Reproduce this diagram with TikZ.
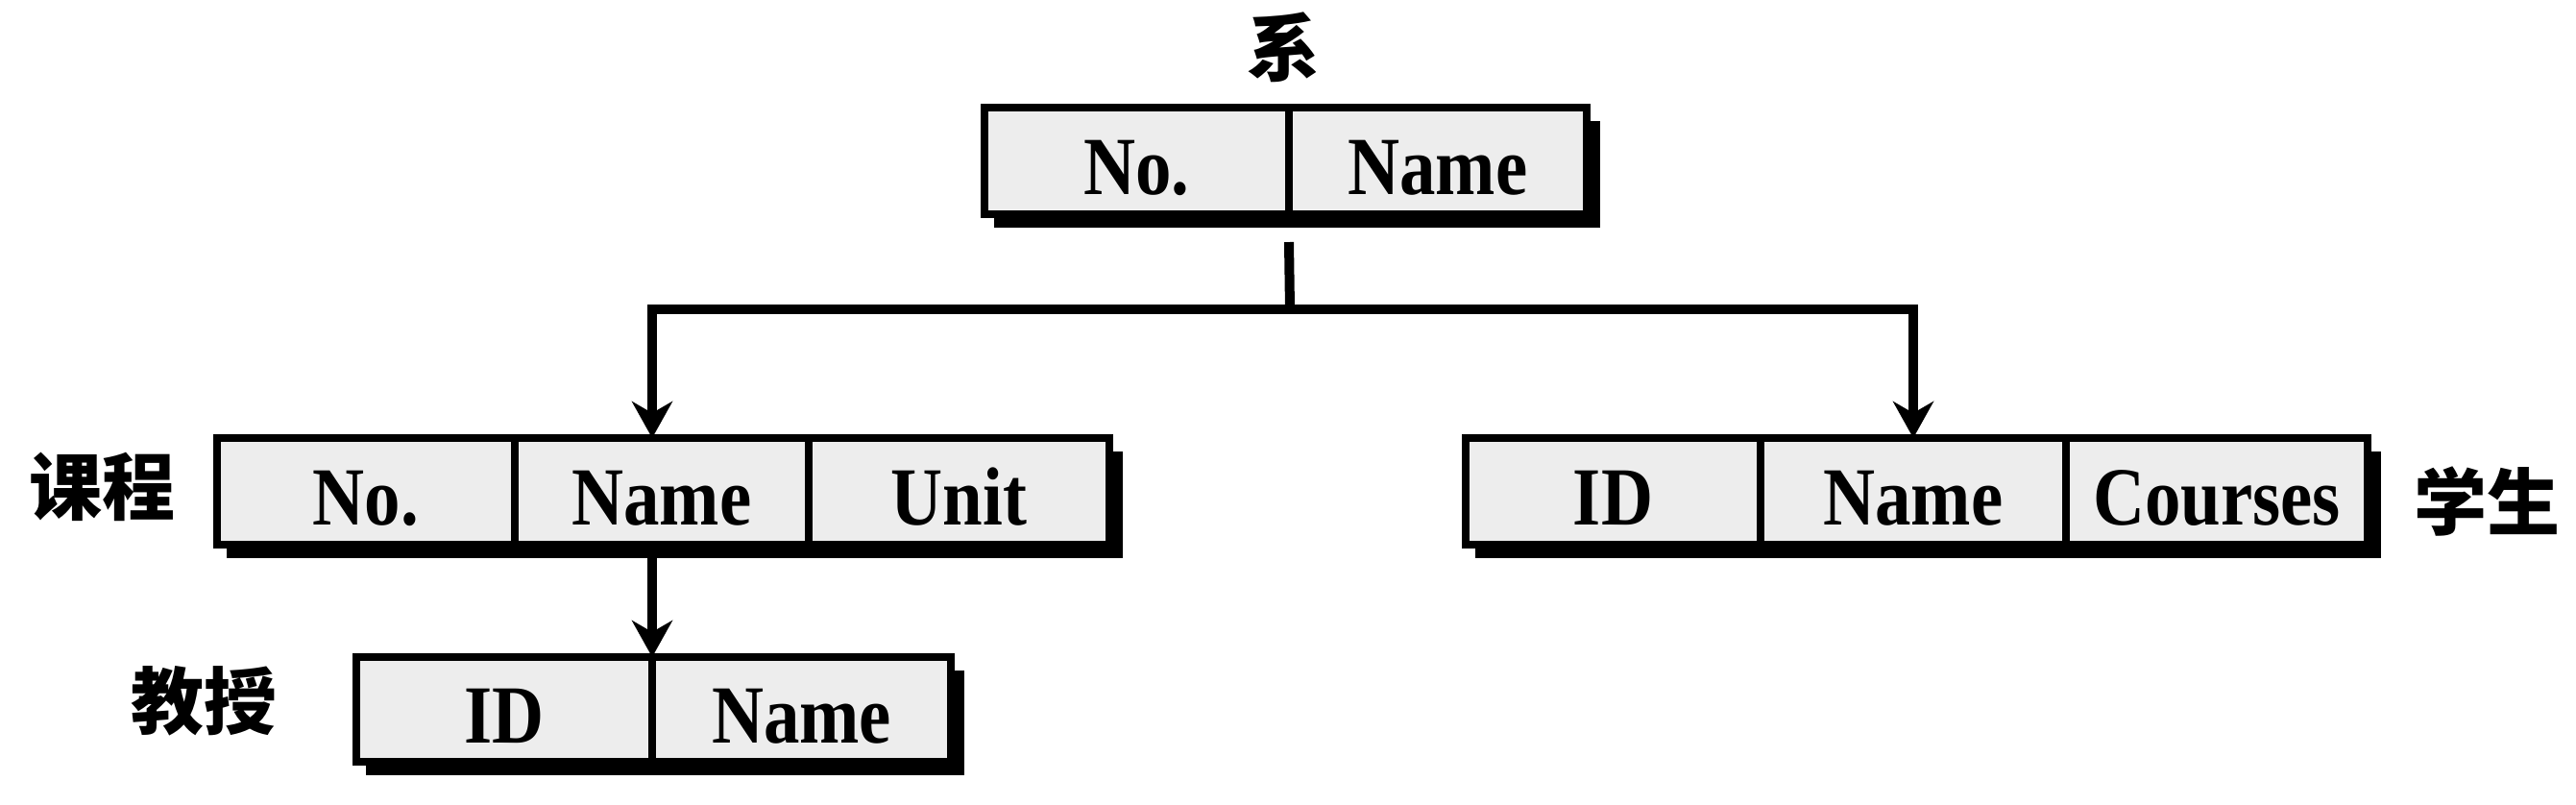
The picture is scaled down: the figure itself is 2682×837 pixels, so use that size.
\documentclass[tikz,border=0pt]{standalone}
\usepackage{fontspec}
\setmainfont{Liberation Serif}
\newfontfamily\cellfont{Liberation Serif}[FakeStretch=0.87]
\newfontfamily\cjk{Noto Sans CJK SC}
\usetikzlibrary{arrows.meta,calc}
\begin{document}
\begin{tikzpicture}[x=0.5pt,y=-0.5pt,
  cell/.style={draw, line width=4pt, fill=black!7, inner sep=0pt, outer sep=0pt,
    minimum height=55.5pt, text height=34.5pt, text depth=0pt,
    font=\cellfont\bfseries\fontsize{43pt}{43pt}\selectfont},
  shadowbox/.style={fill=black},
  lab/.style={inner sep=0pt, font=\cjk\bfseries\fontsize{38pt}{38pt}\selectfont},
  conn/.style={line width=5pt, line join=miter},
  arr/.style={conn, -{Stealth[length=19pt, width=21pt, inset=6pt]}}
]
\useasboundingbox (0,0) rectangle (2682,837);

% ---- shadows
\fill[shadowbox] (1035,126) rectangle (1666,237);
\fill[shadowbox] (236,470) rectangle (1169,581);
\fill[shadowbox] (1536,470) rectangle (2479,581);
\fill[shadowbox] (381,698) rectangle (1004,807);

% ---- top box
\node[cell, minimum width=158.5pt] (t1) at (1183.5,167.5) {No.};
\node[cell, minimum width=155pt]   (t2) at (1497,167.5) {Name};
\node[lab] (lt) at (1336,49) {系};

% ---- course box
\node[cell, minimum width=155pt]   (c1) at (381,511.5) {No.};
\node[cell, minimum width=153pt]   (c2) at (689,511.5) {Name};
\node[cell, minimum width=156.5pt] (c3) at (998.5,511.5) {Unit};
\node[lab] (lc) at (107,507) {课程};

% ---- student box
\node[cell, minimum width=153.5pt] (s1) at (1679.5,511.5) {ID};
\node[cell, minimum width=159pt]   (s2) at (1992,511.5) {Name};
\node[cell, minimum width=157pt]   (s3) at (2308,511.5) {Courses};
\node[lab] (ls) at (2589,522) {学生};

% ---- professor box
\node[cell, minimum width=154pt, minimum height=54.5pt] (p1) at (525,738.5) {ID};
\node[cell, minimum width=155.5pt, minimum height=54.5pt] (p2) at (834.5,738.5) {Name};
\node[lab] (lp) at (212,730) {教授};

% ---- connectors
\coordinate (j) at (1343,322);
\draw[conn] ($(t1.south east)+(0,29)$) -- (j);
\draw[arr] (j) -| (p1.east |- c2.north);
\draw[arr] (j) -| (s2.north);
\draw[arr] (c2.south -| p1.east) -- (p1.north east);
\end{tikzpicture}
\end{document}
